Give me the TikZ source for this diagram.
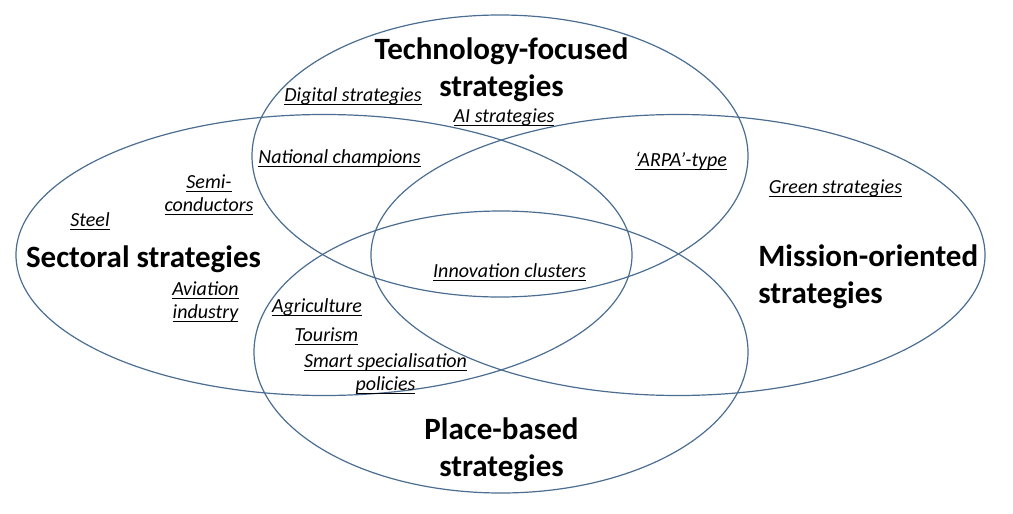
\documentclass[tikz,border=0pt]{standalone}
\usepackage{fontspec}
\setmainfont{Carlito}
\usepackage{tikz}
\usetikzlibrary{shapes.geometric, positioning}
\usepackage{xcolor}
\definecolor{setblue}{RGB}{74, 109, 145}
\tikzstyle{setellipse} = [draw=setblue, line width=0.6pt, ellipse, inner sep=0pt, outer sep=0pt]
\tikzstyle{settitle} = [font=\fontsize{15.5}{18.5}\selectfont\bfseries, align=center, inner sep=0pt, anchor=base]
\tikzstyle{policy} = [font=\fontsize{10}{11.5}\selectfont\itshape, align=center, inner sep=0pt, anchor=base]
\newcommand{\ulabel}[1]{\setbox0=\hbox{#1}\rlap{\rule[-1.8pt]{\wd0}{0.5pt}}\box0}

\begin{document}
\begin{tikzpicture}[x=0.5pt, y=-0.5pt]
\useasboundingbox (0,0) rectangle (1013,514);

% The four kinds of strategy
\node[setellipse, minimum width=248pt, minimum height=141pt] (tech) at (500,156) {};
\node[setellipse, minimum width=308pt, minimum height=140.5pt] (sect) at (324,255) {};
\node[setellipse, minimum width=307pt, minimum height=140.5pt] (miss) at (678,255) {};
\node[setellipse, minimum width=247pt, minimum height=141pt] (place) at (501,352) {};

% Titles
\node[settitle] (techtitle) at (501.5,97) {Technology-focused\\strategies};
\node[settitle] (secttitle) at (143.5,267) {Sectoral strategies};
\node[settitle, align=left, anchor=base west] (misstitle) at (758,303) {Mission-oriented\\strategies};
\node[settitle] (placetitle) at (501.5,476) {Place-based\\strategies};

% Examples of policies
\foreach \name/\x/\y/\txt in {digital/353/101/{Digital strategies}, ai/504/122/{AI strategies},
    champions/339.5/163/{National champions}, arpa/681/166/{‘ARPA’-type},
    green/835.5/193/{Green strategies}, steel/90/226/{Steel},
    clusters/509.5/277/{Innovation clusters}, agri/317/312/{Agriculture},
    tourism/326.5/341/{Tourism}} {
    \node[policy] (\name) at (\x,\y) {\ulabel{\txt}};
}
\node[policy] (semi) at (209,211) {\ulabel{Semi-}\\\ulabel{conductors}};
\node[policy] (aviation) at (205.5,318) {\ulabel{Aviation}\\\ulabel{industry}};
\node[policy] (smart) at (385.5,390) {\ulabel{Smart specialisation}\\\ulabel{policies}};
\end{tikzpicture}
\end{document}
